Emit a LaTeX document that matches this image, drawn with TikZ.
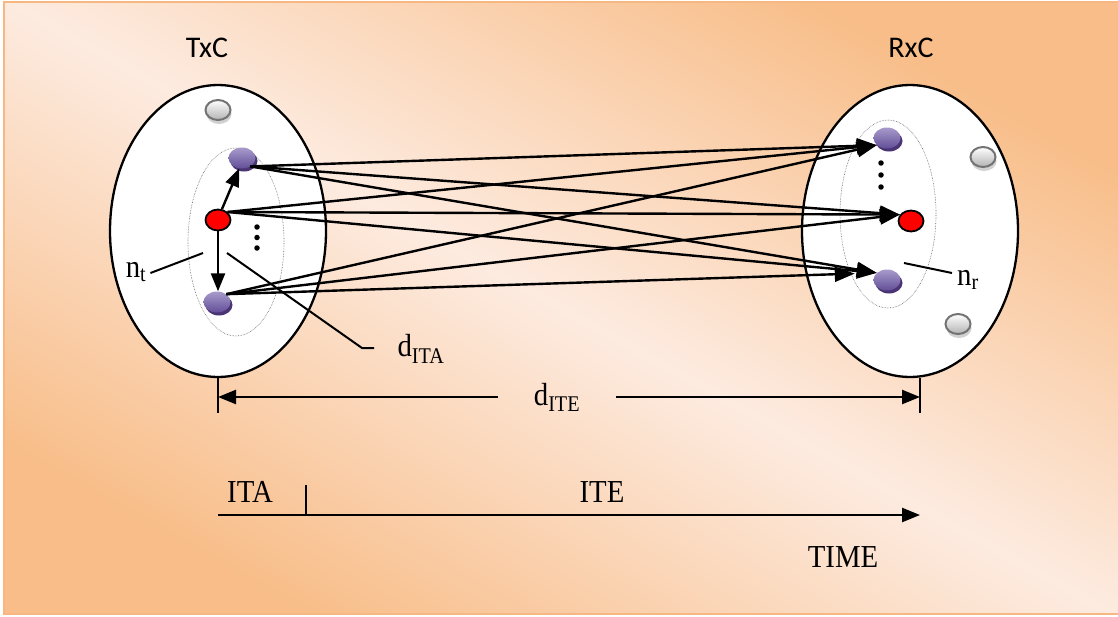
\documentclass[tikz,border=0pt]{standalone}
\usepackage{fontspec}
\setmainfont{Liberation Serif}[FakeStretch=0.9]
\newfontfamily\headfont{Carlito}
\usetikzlibrary{shapes.geometric,arrows.meta,shadows}

\definecolor{bgorange}{HTML}{F8BD88}
\definecolor{bglight}{HTML}{FDEBE0}
\definecolor{bgedge}{HTML}{F6B783}
\definecolor{purplelt}{HTML}{A89BCB}
\definecolor{purpledk}{HTML}{624E98}
\definecolor{purpleshade}{HTML}{4A3474}

\tikzset{
  cluster/.style={ellipse, draw, line width=2.3pt, fill=white,
    minimum width=216pt, minimum height=292pt, inner sep=0pt},
  arraybox/.style={ellipse, draw=black!60, line width=0.6pt, densely dotted,
    minimum width=96pt, minimum height=188pt, inner sep=0pt},
  antenna/.style={ellipse, minimum width=27pt, minimum height=21pt, inner sep=0pt,
    top color=purplelt, bottom color=purpledk,
    general shadow={fill=purpleshade, shadow xshift=2pt, shadow yshift=-3pt}},
  idle/.style={ellipse, draw=black!55, line width=2pt, minimum width=25pt,
    minimum height=20pt, inner sep=0pt, top color=white, bottom color=black!30,
    general shadow={fill=black!18, shadow xshift=1pt, shadow yshift=-4pt}},
  ref/.style={ellipse, draw, line width=1.8pt, fill=red,
    minimum width=25pt, minimum height=21pt, inner sep=0pt},
  dot/.style={circle, fill, inner sep=0pt, minimum size=5.5pt},
  tip/.style={-{Triangle[length=20pt,width=15pt]}},
  small tip/.style={-{Triangle[length=18pt,width=14pt]}},
  link/.style={line width=2.4pt, tip},
  leader/.style={line width=2pt},
  serif/.style={font=\fontsize{32}{38}\selectfont, inner sep=0pt},
  head/.style={font=\headfont\fontsize{30}{36}\selectfont, inner sep=0pt},
}

\begin{document}
\begin{tikzpicture}[x=1pt, y=-1pt]
  \useasboundingbox (0,0) rectangle (1118,616);

  % background panel
  \shade[top color=bgorange, bottom color=bgorange, middle color=bglight,
         shading angle=-29] (4,2) rectangle (1118,614);
  \draw[bgedge, line width=1.8pt] (1118,2) -- (4,2) -- (4,614) -- (1118,614);

  % transmitter and receiver clusters
  \node[cluster] (txc) at (218,231) {};
  \node[cluster] (rxc) at (910,231) {};
  \node[arraybox] (ta) at (236,242) {};
  \node[arraybox] (ra) at (888,214) {};

  \node[head] (txlabel) at (207,48) {TxC};
  \node[head] (rxlabel) at (911,48) {RxC};

  % transmitter side elements
  \node[idle] (lg) at (218,110) {};
  \node[antenna] (ltp) at (242,158) {};
  \node[ref] (lr) at (218,220) {};
  \node[antenna] (lbp) at (217,302) {};
  \node[dot] (ld1) at (257,227) {};
  \node[dot] (ld2) at (257,237.5) {};
  \node[dot] (ld3) at (257,248) {};

  % receiver side elements
  \node[antenna] (rtp) at (887,138) {};
  \node[ref] (rr) at (911,221) {};
  \node[antenna] (rbp) at (887,280) {};
  \node[idle] (rg1) at (983,157) {};
  \node[idle] (rg2) at (958,324) {};
  \node[dot] (rd1) at (881,163) {};
  \node[dot] (rd2) at (881,175) {};
  \node[dot] (rd3) at (881,187) {};

  % intra-array offsets
  \draw[link, small tip] (lr.70) -- (ltp.255);
  \draw[link, small tip] (lr.south) -- (lr.south |- lbp.north);

  % inter-array links
  \draw[link] (ltp.-45) -- (rtp.215);
  \draw[link] (ltp.-45) -- (rr.150);
  \draw[link] (ltp.-45) -- (rbp.145);
  \draw[link] (lr.40) -- (rtp.215);
  \draw[link] (lr.40) -- (rr.150);
  \draw[link] (lr.40) -- (rbp.145);
  \draw[link] (lbp.40) -- (rtp.215);
  \draw[link] (lbp.40) -- (rr.150);
  \draw[link, shorten >=22pt] (lbp.40) -- (rbp.145);

  % labels with leader lines
  \node[serif] (nt) at (136,272) {n\textsubscript{t}};
  \coordinate (ntend) at (203,253);
  \draw[leader] (nt.east) ++(4,1) -- (ntend);

  \node[serif] (nr) at (968,280) {n\textsubscript{r}};
  \coordinate (nrend) at (904,263);
  \draw[leader] (nr.west) ++(-5,-7) -- (nrend);

  \node[serif] (dita) at (421,349) {d\textsubscript{ITA}};
  \coordinate (ditaend) at (227,253);
  \coordinate (ditabend) at (362,348);
  \draw[leader] (ditaend) -- (ditabend) -- ++(12,0);

  % spacing dimension between clusters
  \coordinate (tl) at (218,413);
  \coordinate (tr) at (920,413);
  \draw[leader] (txc.south) -- (tl);
  \draw[leader] (rxc.south) ++(10,0) -- (tr);
  \node[serif, inner xsep=36pt] (dite) at (557,397) {d\textsubscript{ITE}};
  \draw[link, small tip] (dite.west) -- (dite.west -| tl);
  \draw[link, small tip] (dite.east) -- (dite.east -| tr);

  % time axis
  \coordinate (t0) at (218,515);
  \coordinate (t1) at (920,515);
  \coordinate (tm) at (306,515);
  \draw[link, small tip] (t0) -- (t1);
  \draw[leader] (tm) -- ++(0,-30);
  \node[serif] (ita) at (250,492) {ITA};
  \node[serif] (ite) at (602,492) {ITE};
  \node[serif] (time) at (843,557) {TIME};
\end{tikzpicture}
\end{document}
